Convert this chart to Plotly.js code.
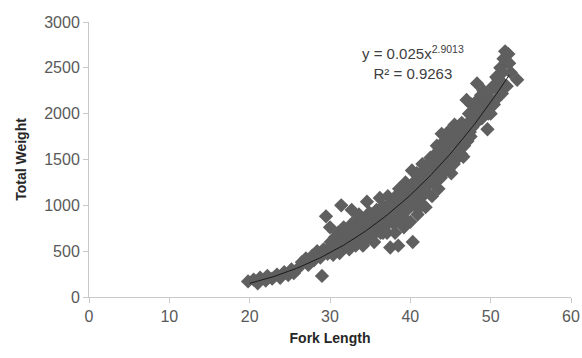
<!DOCTYPE html>
<html>
<head>
<meta charset="utf-8">
<script src="https://cdn.plot.ly/plotly-3.0.1.min.js"></script>
<style>html,body{margin:0;padding:0;background:#fff;}#chart{width:582px;height:358px;}</style>
</head>
<body>
<div id="chart"></div>
<script>
// Fork length (x) and total weight (y)
const forkLength = [
  19.8, 20.5, 21.0, 21.3, 22.0, 22.2, 22.8, 23.4, 23.8, 24.3, 24.8, 25.2, 25.5, 26.0,
  26.5, 27.0, 27.3, 27.8, 28.0, 28.4, 28.8, 29.0, 29.2, 29.5, 29.7, 30.0, 30.2, 30.5, 30.8,
  30.3, 30.6, 30.9, 31.1, 31.4, 31.6, 31.8, 32.0, 32.2, 32.4,
  32.6, 32.7, 32.9, 33.1, 33.3, 33.5, 33.7, 33.9, 34.1, 34.3,
  34.5, 34.6, 34.8, 35.0, 35.2, 35.4, 35.6, 35.8, 36.0, 36.2,
  36.4, 36.6, 36.8, 37.0, 37.2, 37.4, 37.5, 37.7, 37.9, 38.1, 38.3, 38.5,
  38.6, 38.8, 39.0, 39.2, 39.4, 39.6, 39.8, 40.0, 40.2, 40.3, 40.5,
  40.7, 40.9, 41.1, 41.3, 41.5, 41.7, 41.9, 42.1, 42.3,
  42.5, 42.7, 42.9, 43.1, 43.3, 43.5, 43.7, 43.9, 44.1,
  44.3, 44.5, 44.7, 44.9, 45.1, 45.3, 45.5, 45.7, 45.9,
  46.1, 46.3, 46.6, 46.8, 47.0, 47.2, 47.4, 47.6, 47.8,
  48.1, 48.3, 48.5, 48.8, 49.0, 49.3, 49.6, 49.8, 50.0,
  50.3, 50.6, 50.9, 51.2, 51.4, 51.6, 51.8, 52.2, 52.5, 53.3,
  30.1, 30.4, 30.7, 31.0, 31.2, 31.5, 31.7, 31.9, 32.1, 32.3,
  32.5, 32.8, 33.0, 33.2, 33.4, 33.6, 33.8, 34.0, 34.2, 34.4,
  34.7, 34.9, 35.1, 35.3, 35.5, 35.7, 35.9, 36.1, 36.3, 36.5,
  36.7, 36.9, 37.1, 37.3, 37.6, 37.8, 38.0, 38.2, 38.4,
  38.7, 38.9, 39.1, 39.3, 39.5, 39.7, 39.9, 40.1, 40.4,
  40.6, 40.8, 41.0, 41.2, 41.4, 41.6, 41.8, 42.0, 42.2,
  42.4, 42.6, 42.8, 43.0, 43.2, 43.4, 43.6, 43.8, 44.0,
  44.2, 44.4, 44.6, 44.8, 45.0, 45.2, 45.4, 45.6, 45.8,
  46.0, 46.2, 46.4, 46.7, 46.9, 47.1, 47.3, 47.5, 47.7, 47.9,
  48.2, 48.4, 48.6, 48.9, 49.1, 49.4, 49.7, 49.9,
  50.1, 50.4, 50.7, 51.0, 51.3, 51.5, 51.9, 52.3, 52.0
];
const totalWeight = [
  170, 190, 150, 210, 180, 230, 200, 245, 210, 270, 240, 300, 260, 310,
  380, 420, 350, 450, 400, 500, 430, 230, 520, 880, 470, 760, 560, 500, 620,
  540, 650, 520, 600, 1000, 680, 560, 620, 740, 520,
  660, 950, 580, 720, 850, 610, 680, 790, 560, 700,
  860, 1040, 640, 760, 900, 680, 820, 950, 730, 1080,
  870, 700, 980, 780, 1100, 900, 540, 820, 1020, 700, 960, 560,
  1180, 860, 1060, 760, 1250, 950, 1120, 820, 1380, 600, 1000,
  1200, 900, 1300, 1080, 1450, 1180, 980, 1350, 1230,
  1520, 1100, 1400, 1280, 1650, 1180, 1480, 1780, 1350,
  1600, 1420, 1800, 1550, 1350, 1700, 1880, 1500, 1640,
  1780, 1560, 1530, 1720, 2150, 1900, 1800, 2100, 1960,
  2050, 2330, 1950, 2200, 2080, 2020, 1830, 2120, 2000,
  2300, 2150, 2380, 2500, 2220, 2600, 2680, 2650, 2450, 2370,
  600, 460, 580, 700, 480, 640, 760, 700, 560, 660,
  780, 630, 680, 560, 760, 900, 620, 740, 820, 640,
  750, 920, 700, 810, 600, 880, 760, 840, 700, 980,
  820, 900, 700, 1000, 880, 960, 800, 1100, 900,
  1000, 1150, 920, 1040, 840, 1200, 1000, 1100, 1250,
  1100, 1350, 1150, 1230, 1000, 1300, 1400, 1150, 1450,
  1300, 1400, 1250, 1550, 1420, 1350, 1600, 1300, 1500,
  1700, 1500, 1650, 1400, 1750, 1550, 1450, 1700, 1800,
  1550, 1700, 1900, 1650, 1850, 1700, 2000, 1750, 1850, 2100,
  1900, 2150, 2050, 1950, 2250, 2150, 2000, 2250,
  2150, 2100, 2400, 2250, 2350, 2450, 2580, 2550, 2300
];
// Power trendline shown on the chart: y = 0.025 x^2.9013
const trendCoef = 0.025;
const trendExp = 2.9013;
const trendStart = 20;
const trendEnd = 52.3;
const xTicks = [0, 10, 20, 30, 40, 50, 60];
const yTicks = [0, 500, 1000, 1500, 2000, 2500, 3000];

const trendX = [], trendY = [];
for (let i = 0; i <= 100; i++) {
  const x = trendStart + (trendEnd - trendStart) * i / 100;
  trendX.push(x);
  trendY.push(trendCoef * Math.pow(x, trendExp));
}

const font = "Liberation Sans, Arial, sans-serif";
const data = [
  {
    x: forkLength, y: totalWeight, type: 'scatter', mode: 'markers',
    marker: {symbol: 'diamond', size: 11, color: '#5f5f5f', line: {width: 0}},
    hoverinfo: 'x+y'
  },
  {
    x: trendX, y: trendY, type: 'scatter', mode: 'lines',
    line: {color: '#1a1a1a', width: 1}, hoverinfo: 'skip'
  }
];
const axisCommon = {
  showgrid: false, zeroline: false, showline: true, linecolor: '#c8c8c8', linewidth: 1,
  ticks: 'outside', ticklen: 5, tickcolor: '#c8c8c8', tickwidth: 1,
  tickfont: {family: font, size: 16, color: '#595959'}
};
const layout = {
  width: 582, height: 358,
  margin: {l: 89, r: 11, t: 22, b: 61},
  paper_bgcolor: '#ffffff', plot_bgcolor: '#ffffff',
  showlegend: false,
  xaxis: Object.assign({}, axisCommon, {
    range: [0, 60], tickvals: xTicks, ticktext: xTicks.map(String),
    title: {text: '<b>Fork Length</b>', font: {family: font, size: 14, color: '#262626'}, standoff: 8}
  }),
  yaxis: Object.assign({}, axisCommon, {
    range: [0, 3000], tickvals: yTicks, ticktext: yTicks.map(String),
    title: {text: '<b>Total Weight</b>', font: {family: font, size: 14, color: '#262626'}, standoff: 14}
  }),
  annotations: [{
    xref: 'paper', yref: 'paper', x: 0.673, y: 0.852, xanchor: 'center', yanchor: 'middle',
    text: 'y = 0.025x<sup>2.9013</sup><br>R² = 0.9263', showarrow: false, align: 'center',
    font: {family: font, size: 15, color: '#404040'}
  }]
};
Plotly.newPlot('chart', data, layout, {displayModeBar: false, staticPlot: true});
</script>
</body>
</html>
